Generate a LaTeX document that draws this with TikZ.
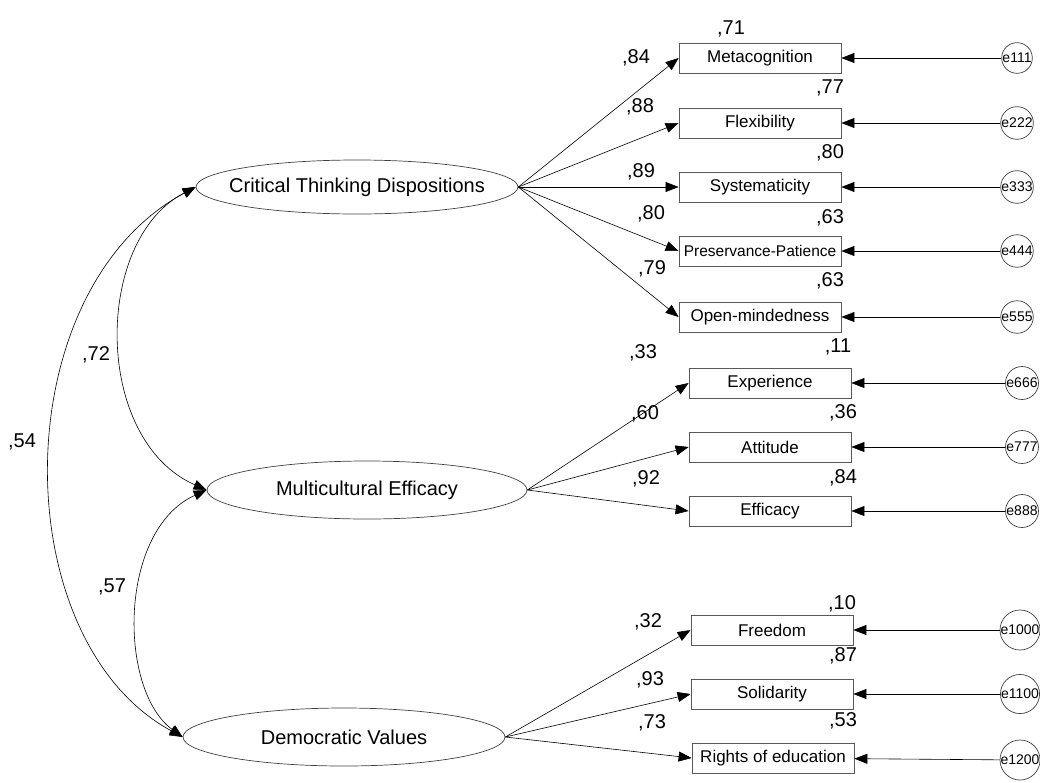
\documentclass[tikz,border=0pt]{standalone}
\usepackage{fontspec}
\setmainfont{Liberation Sans}
\usetikzlibrary{shapes.geometric,arrows.meta,positioning}

\tikzset{
  latent/.style={ellipse,draw=black!75,line width=0.7pt,inner ysep=0pt,minimum height=54pt,font=\fontsize{20}{22}\selectfont},
  observed/.style={rectangle,draw=black!65,line width=0.8pt,inner sep=1pt,minimum width=162pt,minimum height=30pt,font=\fontsize{17}{19}\selectfont},
  errvar/.style={circle,draw=black!75,line width=0.7pt,inner sep=0pt,minimum size=28pt,font=\fontsize{14}{14}\selectfont},
  est/.style={inner sep=0pt,font=\fontsize{20}{22}\selectfont},
  regr/.style={line width=0.6pt,-{Triangle[length=13pt,width=10pt]}},
  cov/.style={line width=0.6pt,{Triangle[length=13pt,width=10pt]}-{Triangle[length=13pt,width=10pt]}},
}

\begin{document}
\begin{tikzpicture}[x=1pt,y=-1pt]
\useasboundingbox (0,0) rectangle (1040,782);

% latent variables
\node [latent,inner xsep=-14pt] (ctd) at (357,187) {Critical Thinking Dispositions};
\node [latent,inner xsep=0pt,minimum width=320pt,minimum height=58pt] (mce) at (367,490) {Multicultural Efficacy};
\node [latent,inner xsep=0pt,minimum width=322pt,minimum height=58pt] (dem) at (344,737) {Democratic Values};

% observed variables
\node [observed] (meta) at (760,58) {Metacognition};
\node [observed] (flex) at (760,123) {Flexibility};
\node [observed] (syst) at (760,187) {Systematicity};
\node [observed,font=\fontsize{15.5}{17}\selectfont] (pres) at (760,251) {Preservance-Patience};
\node [observed] (open) at (760,317) {Open-mindedness};
\node [observed] (expe) at (770,383) {Experience};
\node [observed] (atti) at (770,447) {Attitude};
\node [observed] (effi) at (770,511) {Efficacy};
\node [observed] (free) at (772,630) {Freedom};
\node [observed] (soli) at (772,694) {Solidarity};
\node [observed] (righ) at (773,758) {Rights of education};

% error terms
\node [errvar] (e1) at (1017,58) {e111};
\node [errvar] (e2) at (1017,123) {e222};
\node [errvar] (e3) at (1017,187) {e333};
\node [errvar] (e4) at (1017,251) {e444};
\node [errvar] (e5) at (1017,317) {e555};
\node [errvar,minimum size=33pt] (e6) at (1022,383) {e666};
\node [errvar,minimum size=33pt] (e7) at (1022,447) {e777};
\node [errvar,minimum size=33pt] (e8) at (1022,511) {e888};
\node [errvar,minimum size=33pt] (e10) at (1020,630) {e1000};
\node [errvar,minimum size=33pt] (e11) at (1020,694) {e1100};
\node [errvar,minimum size=33pt] (e12) at (1020,760) {e1200};

% loadings
\draw [regr] (ctd.east) -- (meta.west);
\draw [regr] (ctd.east) -- (flex.west);
\draw [regr] (ctd.east) -- (syst.west);
\draw [regr] (ctd.east) -- (pres.west);
\draw [regr] (ctd.east) -- (open.west);
\draw [regr] (mce.east) -- (expe.west);
\draw [regr] (mce.east) -- (atti.west);
\draw [regr] (mce.east) -- (effi.west);
\draw [regr] (dem.east) -- (free.west);
\draw [regr] (dem.east) -- (soli.west);
\draw [regr] (dem.east) -- (righ.west);

% errors
\draw [regr] (e1) -- (meta);
\draw [regr] (e2) -- (flex);
\draw [regr] (e3) -- (syst);
\draw [regr] (e4) -- (pres);
\draw [regr] (e5) -- (open);
\draw [regr] (e6) -- (expe);
\draw [regr] (e7) -- (atti);
\draw [regr] (e8) -- (effi);
\draw [regr] (e10) -- (free);
\draw [regr] (e11) -- (soli);
\draw [regr] (e12) -- (righ);

% covariances
\draw [cov] (ctd.west) .. controls (93,240) and (93,440) .. (mce.west);
\draw [cov] (ctd.west) .. controls (4,290) and (4,640) .. (dem.west);
\draw [cov] (mce.west) .. controls (118,530) and (118,690) .. (dem.west);

% estimates
\node [est] (r1) at (731,29) {,71};
\node [est] (l1) at (636,58) {,84};
\node [est] (r2) at (830,88) {,77};
\node [est] (l2) at (640,107) {,88};
\node [est] (r3) at (830,153) {,80};
\node [est] (l3) at (641,172) {,89};
\node [est] (l4) at (651,214) {,80};
\node [est] (r4) at (830,218) {,63};
\node [est] (l5) at (652,269) {,79};
\node [est] (r5) at (830,281) {,63};
\node [est] (r6) at (838,347) {,11};
\node [est] (l6) at (643,353) {,33};
\node [est] (r7) at (843,413) {,36};
\node [est] (l7) at (645,414) {,60};
\node [est] (r8) at (843,478) {,84};
\node [est] (l8) at (646,479) {,92};
\node [est] (r10) at (842,604) {,10};
\node [est] (l10) at (648,622) {,32};
\node [est] (r11) at (843,656) {,87};
\node [est] (l11) at (650,680) {,93};
\node [est] (r12) at (843,721) {,53};
\node [est] (l12) at (652,723) {,73};
\node [est] (c1) at (96,355) {,72};
\node [est] (c2) at (22,442) {,54};
\node [est] (c3) at (112,587) {,57};
\end{tikzpicture}
\end{document}
